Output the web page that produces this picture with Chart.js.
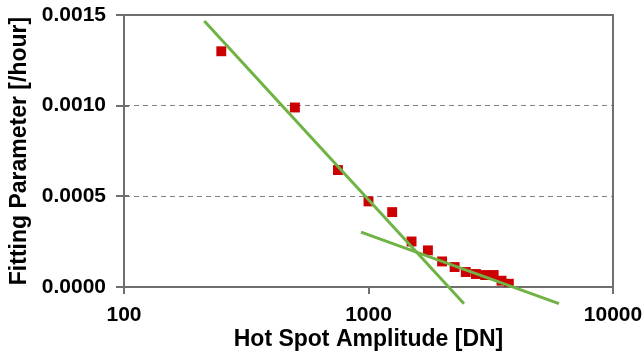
<!DOCTYPE html>
<html>
<head>
<meta charset="utf-8">
<script src="https://cdn.jsdelivr.net/npm/chart.js@4/dist/chart.umd.min.js"></script>
<style>
  html, body { margin: 0; padding: 0; background: #fff; }
  #wrap { width: 642px; height: 360px; position: relative; }
</style>
</head>
<body>
<div id="wrap"><canvas id="c" width="642" height="360"></canvas></div>
<script>
// ---- data ----
const amplitude = [250, 500, 750, 1000, 1250, 1500, 1750, 2000, 2250, 2500, 2750, 3000, 3250, 3500, 3750];
const fittingParam = [0.00130, 0.00099, 0.000645, 0.000472, 0.000413, 0.000251, 0.000202, 0.000141, 0.000110, 0.0000826, 0.0000716, 0.000066, 0.000066, 0.0000347, 0.000018];
const fit1X = [213, 2458];
const fit1Y = [0.001467, -0.000092];
const fit2X = [932, 6013];
const fit2Y = [0.000303, -0.000092];
const xTicks = [100, 1000, 10000];
const yTicks = [0, 0.0005, 0.0010, 0.0015];

const toPts = (xs, ys) => xs.map((x, i) => ({ x: x, y: ys[i] }));
const AXIS = '#6f6f6f';
const GREEN = '#6FB344';
const RED = '#CC0000';
const FONT = 'Liberation Sans, Arial, sans-serif';

const frame = {
  id: 'frame',
  afterDraw(chart) {
    const { ctx, chartArea: a, scales } = chart;
    ctx.save();
    ctx.strokeStyle = AXIS;
    ctx.lineWidth = 2;
    ctx.beginPath();
    ctx.moveTo(a.left, a.top); ctx.lineTo(a.right, a.top); ctx.lineTo(a.right, a.bottom);
    // y tick crosses
    yTicks.forEach(v => {
      const y = Math.round(scales.y.getPixelForValue(v));
      ctx.moveTo(a.left - 8, y); ctx.lineTo(a.left + 5, y);
    });
    // x ticks downward
    xTicks.forEach(v => {
      const x = Math.round(scales.x.getPixelForValue(v));
      ctx.moveTo(x, a.bottom); ctx.lineTo(x, a.bottom + 7);
    });
    ctx.stroke();
    ctx.restore();
  }
};

new Chart(document.getElementById('c'), {
  type: 'scatter',
  data: {
    datasets: [
      { label: 'fit1', data: toPts(fit1X, fit1Y), showLine: true, borderColor: GREEN, borderWidth: 3, pointRadius: 0, clip: false },
      { label: 'fit2', data: toPts(fit2X, fit2Y), showLine: true, borderColor: GREEN, borderWidth: 3, pointRadius: 0, clip: false },
      { label: 'data', data: toPts(amplitude, fittingParam), pointStyle: 'rect', pointRadius: 7, backgroundColor: RED, borderColor: RED, borderWidth: 0 }
    ]
  },
  options: {
    responsive: false,
    animation: false,
    layout: { padding: { left: 0, right: 29, top: 15, bottom: 0 } },
    plugins: { legend: { display: false }, tooltip: { enabled: false } },
    scales: {
      x: {
        type: 'logarithmic',
        min: 100, max: 10000,
        afterBuildTicks: s => { s.ticks = xTicks.map(v => ({ value: v })); },
        afterFit: s => { s.height = 73; s.paddingLeft = 0; s.paddingRight = 0; },
        grid: { drawOnChartArea: false, drawTicks: false },
        border: { color: AXIS, width: 2 },
        ticks: {
          callback: v => String(v),
          color: '#000', padding: 16,
          maxRotation: 0, autoSkip: false,
          font: { family: FONT, size: 21, weight: 'bold' }
        },
        title: {
          display: true, text: 'Hot Spot Amplitude [DN]', color: '#000',
          padding: { top: 0, bottom: 7 },
          font: { family: FONT, size: 23, weight: 'bold' }
        }
      },
      y: {
        min: 0, max: 0.0015,
        afterBuildTicks: s => { s.ticks = yTicks.map(v => ({ value: v })); },
        afterFit: s => { s.width = 124; s.paddingTop = 0; s.paddingBottom = 0; },
        grid: {
          drawTicks: false,
          color: c => (c.tick && (c.tick.value === 0 || c.tick.value === 0.0015)) ? 'rgba(0,0,0,0)' : '#808080',
          lineWidth: 1
        },
        border: { color: AXIS, width: 2, dash: [5, 4] },
        ticks: {
          callback: v => Number(v).toFixed(4),
          color: '#000', padding: 18,
          font: { family: FONT, size: 21, weight: 'bold' }
        },
        title: {
          display: true, text: 'Fitting Parameter [/hour]', color: '#000',
          padding: { top: 6, bottom: 0 },
          font: { family: FONT, size: 23, weight: 'bold' }
        }
      }
    }
  },
  plugins: [frame]
});
</script>
</body>
</html>
